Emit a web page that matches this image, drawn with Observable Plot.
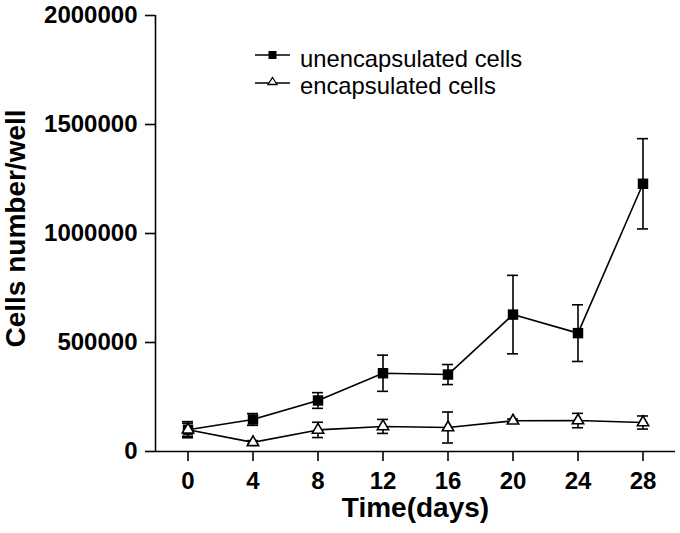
<!DOCTYPE html>
<html>
<head>
<meta charset="utf-8">
<script src="https://cdn.jsdelivr.net/npm/d3@7"></script>
<script src="https://cdn.jsdelivr.net/npm/@observablehq/plot@0.6"></script>
<style>
  html, body { margin: 0; padding: 0; background: #fff; }
  #wrap { position: relative; width: 680px; height: 533px; }
  #legend { position: absolute; left: 240px; top: 40px; }
</style>
</head>
<body>
<div id="wrap"></div>
<script>
// ---- data ----
const days = [0, 4, 8, 12, 16, 20, 24, 28];
const unencMean = [100000, 147000, 234000, 359000, 353000, 628000, 543000, 1228000];
const unencErr  = [37000, 27000, 36000, 83000, 46000, 180000, 130000, 207000];
const encMean   = [100000, 42000, 99000, 115000, 110000, 141000, 142000, 133000];
const encErr    = [30000, 8000, 35000, 32000, 71000, 8000, 33000, 30000];
const seriesNames = ["unencapsulated cells", "encapsulated cells"];
const xTicks = [0, 4, 8, 12, 16, 20, 24, 28];
const yTicks = [0, 500000, 1000000, 1500000, 2000000];
const xDomain = [-2, 30];
const yDomain = [0, 2000000];
const xTitle = "Time(days)";
const yTitle = "Cells number/well";

const unenc = days.map((d, i) => ({x: d, y: unencMean[i], e: unencErr[i]}));
const enc = days.map((d, i) => ({x: d, y: encMean[i], e: encErr[i]}));
const capHalf = 0.34; // half cap width in days

function errMarks(data) {
  return [
    Plot.ruleX(data, {x: "x", y1: d => d.y - d.e, y2: d => d.y + d.e, stroke: "#000", strokeWidth: 1.6}),
    Plot.ruleY(data, {y: d => d.y + d.e, x1: d => d.x - capHalf, x2: d => d.x + capHalf, stroke: "#000", strokeWidth: 1.6}),
    Plot.ruleY(data, {y: d => d.y - d.e, x1: d => d.x - capHalf, x2: d => d.x + capHalf, stroke: "#000", strokeWidth: 1.6})
  ];
}

const chart = Plot.plot({
  width: 680,
  height: 533,
  marginLeft: 155,
  marginRight: 5,
  marginTop: 15,
  marginBottom: 82,
  style: {fontFamily: "'Liberation Sans', Arial, sans-serif", fontSize: "24px", fontWeight: "bold", color: "#000", background: "#fff"},
  x: {domain: xDomain},
  y: {domain: yDomain},
  marks: [
    Plot.axisX({ticks: xTicks, tickSize: 10, tickPadding: 10, label: null, strokeWidth: 1.6, fontSize: 24, fontWeight: "bold"}),
    Plot.axisY({ticks: yTicks, tickSize: 10, tickPadding: 8, label: null, tickFormat: d3.format("d"), strokeWidth: 1.6, fontSize: 24, fontWeight: "bold"}),
    Plot.ruleX([xDomain[0]], {stroke: "#000", strokeWidth: 1.6}),
    Plot.ruleY([yDomain[0]], {stroke: "#000", strokeWidth: 1.6}),
    ...errMarks(enc),
    ...errMarks(unenc),
    Plot.line(enc, {x: "x", y: "y", stroke: "#000", strokeWidth: 1.6}),
    Plot.line(unenc, {x: "x", y: "y", stroke: "#000", strokeWidth: 1.6}),
    Plot.dot(unenc, {x: "x", y: "y", symbol: "square", r: 5.9, fill: "#000", stroke: "none"}),
    Plot.dot(enc, {x: "x", y: "y", symbol: "triangle", r: 4.2, fill: "#fff", stroke: "#000", strokeWidth: 1.6}),
    Plot.text([xTitle], {frameAnchor: "bottom", textAnchor: "middle", lineAnchor: "middle", dy: 57, fontSize: 28, fontWeight: "bold", fill: "#000"}),
    Plot.text([yTitle], {frameAnchor: "left", textAnchor: "middle", lineAnchor: "middle", dx: -139, dy: -5, rotate: -90, fontSize: 28, fontWeight: "bold", fill: "#000"})
  ]
});
document.getElementById("wrap").appendChild(chart);

// ---- legend ----
const legend = document.createElementNS("http://www.w3.org/2000/svg", "svg");
legend.setAttribute("id", "legend");
legend.setAttribute("width", "340");
legend.setAttribute("height", "70");
legend.innerHTML = `
  <g font-family="'Liberation Sans', Arial, sans-serif" font-size="23.8" fill="#000">
    <line x1="15" x2="50" y1="15" y2="15" stroke="#000" stroke-width="1.5"/>
    <rect x="28.5" y="11" width="8" height="8" fill="#000"/>
    <text x="60" y="27">${seriesNames[0]}</text>
    <line x1="15" x2="50" y1="43" y2="43" stroke="#000" stroke-width="1.5"/>
    <path d="M32.5,37.5 L37,44.5 L28,44.5 Z" fill="#fff" stroke="#000" stroke-width="1.3"/>
    <text x="60" y="54">${seriesNames[1]}</text>
  </g>`;
document.getElementById("wrap").appendChild(legend);
</script>
</body>
</html>
